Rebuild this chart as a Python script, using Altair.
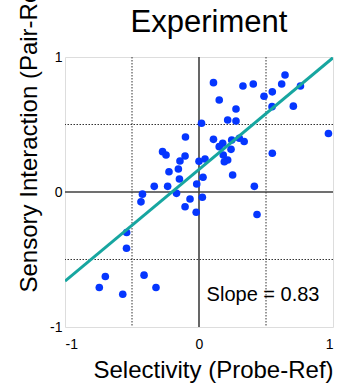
import altair as alt
import pandas as pd

# Data
sel = [0.108, 0.151, 0.328, 0.405, 0.642, 0.617, 0.757, 0.547, 0.485, 0.276,
       0.545, 0.704, 0.214, 0.276, 0.019, 0.966, -0.101, 0.108, 0.177, 0.244,
       0.301, 0.337, 0.151, 0.239, 0.181, 0.214, 0.189, 0.0, 0.045, 0.547,
       0.030, 0.251, -0.017, 0.413, 0.025, -0.272, -0.246, -0.104, -0.142, -0.224,
       -0.154, -0.146, -0.334, -0.234, -0.168, -0.422, -0.433, -0.067, -0.104, -0.021,
       -0.540, -0.541, -0.699, -0.744, -0.569, -0.410, -0.321, 0.433]
inter = [0.810, 0.681, 0.785, 0.800, 0.867, 0.800, 0.785, 0.742, 0.709, 0.615,
         0.632, 0.636, 0.533, 0.526, 0.509, 0.433, 0.407, 0.390, 0.361, 0.385,
         0.398, 0.374, 0.336, 0.316, 0.274, 0.237, 0.224, 0.228, 0.244, 0.287,
         0.109, 0.126, 0.059, 0.042, -0.039, 0.299, 0.274, 0.267, 0.230, 0.150,
         0.170, 0.096, 0.042, 0.042, -0.010, -0.016, -0.073, -0.052, -0.109, -0.150,
         -0.300, -0.417, -0.626, -0.707, -0.757, -0.616, -0.707, -0.167]

fit_x = [-1.0, 1.0]
fit_y = [-0.66, 0.995]

dotted_vals = [-0.5, 0.5]
zero_vals = [0.0]
tick_vals = [-1, 0, 1]

slope_label = ["Slope = 0.83"]
slope_x = [0.478]
slope_y = [-0.807]

FONT = "Liberation Sans"

pts = pd.DataFrame({"x": sel, "y": inter})
fit = pd.DataFrame({"x": fit_x, "y": fit_y})
dots = pd.DataFrame({"v": dotted_vals})
zeros = pd.DataFrame({"v": zero_vals})
lab = pd.DataFrame({"t": slope_label, "x": slope_x, "y": slope_y})

xs = alt.Scale(domain=[-1, 1], nice=False, zero=False)
ys = alt.Scale(domain=[-1, 1], nice=False, zero=False)

xaxis = alt.Axis(values=tick_vals, grid=False, ticks=False, domain=False,
                 labelExpr="'' + datum.value",
                 labelFontSize=14, labelFont=FONT, labelColor="black", labelPadding=10,
                 title="Selectivity (Probe-Ref)", titleFont=FONT, titleFontSize=24,
                 titleFontWeight="normal", titleColor="black",
                 titleX=148, titleY=50, titleAlign="center", titleBaseline="alphabetic")
yaxis = alt.Axis(values=tick_vals, grid=False, ticks=False, domain=False,
                 labelExpr="'' + datum.value",
                 labelFontSize=14, labelFont=FONT, labelColor="black", labelPadding=3,
                 title="Sensory Interaction (Pair-Ref)", titleFont=FONT, titleFontSize=24,
                 titleFontWeight="normal", titleColor="black", titleAngle=270,
                 titleX=-29, titleY=235, titleAlign="left", titleBaseline="alphabetic")

gx = alt.Chart(dots).mark_rule(color="#333333", strokeWidth=1, strokeDash=[1.5, 1.5]).encode(
    x=alt.X("v:Q", scale=xs, axis=xaxis))
gy = alt.Chart(dots).mark_rule(color="#333333", strokeWidth=1, strokeDash=[1.5, 1.5]).encode(
    y=alt.Y("v:Q", scale=ys, axis=yaxis))
zx = alt.Chart(zeros).mark_rule(color="#404040", strokeWidth=1.6).encode(
    x=alt.X("v:Q", scale=xs, axis=xaxis))
zy = alt.Chart(zeros).mark_rule(color="#404040", strokeWidth=1.6).encode(
    y=alt.Y("v:Q", scale=ys, axis=yaxis))

points = alt.Chart(pts).mark_circle(size=58, color="#0536ff", opacity=1).encode(
    x=alt.X("x:Q", scale=xs, axis=xaxis),
    y=alt.Y("y:Q", scale=ys, axis=yaxis))

line = alt.Chart(fit).mark_line(color="#17a6a0", strokeWidth=3, clip=True).encode(
    x=alt.X("x:Q", scale=xs, axis=xaxis),
    y=alt.Y("y:Q", scale=ys, axis=yaxis))

text = alt.Chart(lab).mark_text(font=FONT, fontSize=20, color="black", align="center",
                                baseline="alphabetic").encode(
    x=alt.X("x:Q", scale=xs, axis=xaxis),
    y=alt.Y("y:Q", scale=ys, axis=yaxis),
    text="t:N")

chart = alt.layer(gx, gy, zx, zy, points, line, text).properties(
    width=268, height=270,
    title=alt.TitleParams("Experiment", font=FONT, fontSize=31, fontWeight="normal",
                          color="black", dx=10, dy=88, offset=0, baseline="alphabetic",
                          frame="group", anchor="middle"),
    autosize=alt.AutoSizeParams(type="none"),
    padding={"left": 65, "top": 57, "right": 9, "bottom": 60},
).configure_view(stroke="black", strokeWidth=2).configure(background="white")

chart.save("out.html", embed_options={"renderer": "svg", "actions": False})
